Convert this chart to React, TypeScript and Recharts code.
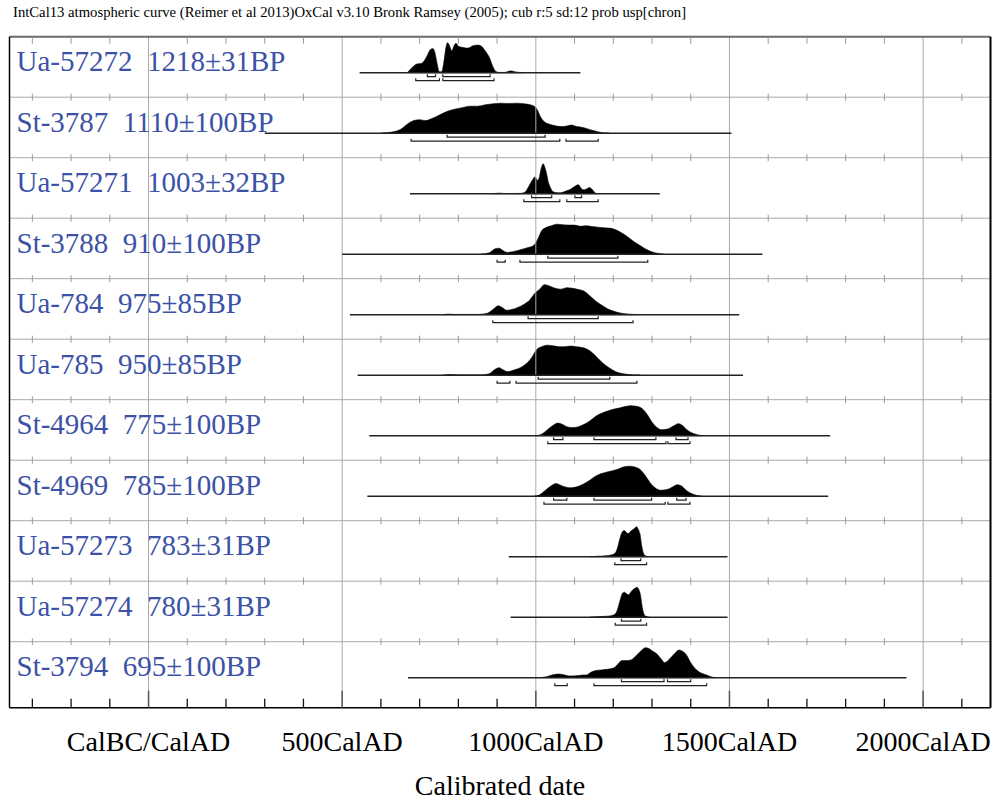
import React from 'react';
import { ComposedChart, Area, XAxis, YAxis, ReferenceLine, Scatter } from 'recharts';

const SERIF = '"Liberation Serif", "Times New Roman", serif';
const BLUE = '#3c52a6';

const title = 'IntCal13 atmospheric curve (Reimer et al 2013)OxCal v3.10 Bronk Ramsey (2005); cub r:5 sd:12 prob usp[chron]';

const sampleNames = ['Ua-57272', 'St-3787', 'Ua-57271', 'St-3788', 'Ua-784', 'Ua-785', 'St-4964', 'St-4969', 'Ua-57273', 'Ua-57274', 'St-3794'];
const bpDates = ['1218±31BP', '1110±100BP', '1003±32BP', '910±100BP', '975±85BP', '950±85BP', '775±100BP', '785±100BP', '783±31BP', '780±31BP', '695±100BP'];

// extent of the calibrated range line for each sample (cal AD)
const extents = [
  [545, 1115], [300, 1505], [675, 1320], [500, 1585], [520, 1525], [540, 1535],
  [570, 1760], [565, 1755], [930, 1495], [935, 1495], [670, 1957],
];

// probability curves, [year, relative height]
const ua57272 = [[668,0],[683,0.2],[693,0.29],[705,0.31],[718,0.53],[727,0.76],[734,0.81],[740,0.64],[745,0.31],[751,0.03],[757,0.03],[763,0.4],[768,0.85],[772,1],[777,0.9],[783,0.73],[789,0.9],[794,0.98],[800,0.88],[812,0.84],[825,0.82],[838,0.9],[850,0.92],[860,0.88],[868,0.75],[876,0.6],[882,0.45],[886,0.3],[891,0.15],[896,0.05],[905,0.01],[920,0.01],[930,0.05],[937,0.06],[945,0.03],[958,0.01],[965,0]];
const st3787 = [[600,0],[625,0.03],[650,0.12],[668,0.3],[685,0.42],[700,0.45],[715,0.42],[730,0.48],[750,0.6],[770,0.72],[790,0.8],[810,0.85],[830,0.9],[850,0.9],[870,0.95],[890,0.98],[910,1],[930,0.99],[950,1],[970,0.98],[990,0.93],[1003,0.8],[1012,0.55],[1022,0.38],[1035,0.3],[1050,0.25],[1065,0.22],[1080,0.24],[1092,0.27],[1105,0.22],[1118,0.2],[1130,0.16],[1145,0.1],[1160,0.05],[1175,0.01],[1190,0]];
const ua57271 = [[890,0],[900,0.015],[907,0.02],[915,0.01],[930,0.005],[960,0.01],[972,0.05],[982,0.25],[990,0.43],[998,0.56],[1004,0.45],[1008,0.5],[1013,0.8],[1019,1],[1024,0.85],[1028,0.65],[1032,0.4],[1037,0.22],[1043,0.08],[1050,0.04],[1060,0.03],[1070,0.05],[1080,0.1],[1090,0.15],[1100,0.24],[1110,0.3],[1116,0.2],[1122,0.13],[1130,0.15],[1138,0.21],[1145,0.15],[1153,0.03],[1160,0]];
const st3788 = [[860,0],[880,0.05],[895,0.18],[905,0.2],[915,0.12],[925,0.06],[940,0.08],[960,0.15],[980,0.22],[995,0.3],[1005,0.5],[1015,0.78],[1025,0.88],[1040,0.95],[1055,1],[1070,0.98],[1085,0.97],[1100,0.97],[1115,0.93],[1130,0.95],[1145,0.92],[1160,0.9],[1175,0.88],[1190,0.87],[1205,0.82],[1220,0.72],[1235,0.6],[1250,0.45],[1265,0.32],[1280,0.2],[1295,0.1],[1310,0.04],[1330,0]];
const ua784 = [[760,0],[775,0.02],[790,0.01],[850,0.01],[875,0.05],[890,0.18],[903,0.3],[912,0.25],[925,0.15],[940,0.18],[955,0.25],[970,0.35],[985,0.5],[998,0.72],[1010,0.85],[1022,1],[1035,0.96],[1050,0.88],[1065,0.85],[1080,0.9],[1095,0.88],[1110,0.84],[1125,0.78],[1140,0.62],[1155,0.45],[1170,0.32],[1185,0.2],[1200,0.12],[1220,0.05],[1240,0.02],[1260,0]];
const ua785 = [[760,0],[780,0.02],[800,0.01],[860,0.01],[880,0.05],[893,0.18],[905,0.25],[915,0.18],[928,0.12],[945,0.18],[960,0.25],[975,0.38],[990,0.6],[1002,0.85],[1015,0.95],[1030,1],[1045,0.98],[1060,0.95],[1075,0.95],[1090,0.97],[1105,0.95],[1120,0.92],[1135,0.85],[1150,0.7],[1165,0.5],[1180,0.33],[1195,0.2],[1210,0.1],[1230,0.04],[1250,0.01],[1270,0]];
const st4964 = [[1000,0],[1015,0.05],[1030,0.2],[1045,0.35],[1057,0.42],[1068,0.38],[1080,0.3],[1095,0.27],[1110,0.3],[1125,0.38],[1140,0.5],[1155,0.65],[1170,0.75],[1185,0.82],[1200,0.88],[1215,0.92],[1230,0.97],[1245,1],[1260,0.98],[1275,0.9],[1288,0.7],[1300,0.45],[1312,0.28],[1325,0.2],[1340,0.22],[1355,0.32],[1368,0.4],[1378,0.35],[1390,0.2],[1402,0.1],[1415,0.04],[1430,0]];
const st4969 = [[995,0],[1010,0.05],[1025,0.2],[1040,0.35],[1052,0.42],[1065,0.36],[1078,0.3],[1092,0.28],[1108,0.32],[1122,0.4],[1138,0.52],[1152,0.65],[1168,0.75],[1182,0.8],[1198,0.85],[1212,0.9],[1228,0.98],[1242,1],[1256,0.97],[1270,0.88],[1283,0.68],[1295,0.45],[1308,0.28],[1322,0.2],[1338,0.22],[1352,0.3],[1365,0.38],[1375,0.35],[1388,0.2],[1400,0.1],[1412,0.04],[1428,0]];
const ua57273 = [[1140,0],[1160,0.015],[1180,0.03],[1195,0.06],[1205,0.12],[1211,0.3],[1217,0.6],[1223,0.82],[1228,0.87],[1234,0.8],[1239,0.77],[1245,0.85],[1250,0.9],[1256,0.96],[1260,1],[1265,0.9],[1269,0.75],[1273,0.4],[1277,0.15],[1282,0.04],[1290,0]];
const ua57274 = [[1140,0],[1160,0.015],[1180,0.03],[1195,0.05],[1206,0.12],[1212,0.3],[1218,0.58],[1224,0.8],[1229,0.83],[1235,0.77],[1240,0.75],[1246,0.85],[1251,0.92],[1257,0.97],[1261,1],[1266,0.92],[1270,0.75],[1274,0.4],[1278,0.15],[1283,0.04],[1292,0]];
const st3794 = [[1010,0],[1030,0.04],[1045,0.1],[1058,0.12],[1072,0.1],[1085,0.06],[1097,0.06],[1110,0.07],[1122,0.09],[1131,0.09],[1142,0.18],[1155,0.24],[1170,0.26],[1185,0.28],[1200,0.32],[1212,0.45],[1222,0.57],[1235,0.57],[1247,0.6],[1260,0.75],[1272,0.9],[1283,1],[1292,0.97],[1302,0.88],[1312,0.8],[1322,0.65],[1333,0.5],[1345,0.62],[1358,0.8],[1370,0.92],[1376,0.9],[1389,0.76],[1400,0.5],[1415,0.26],[1428,0.15],[1441,0.09],[1455,0.02],[1465,0]];

const curves = [ua57272, st3787, ua57271, st3788, ua784, ua785, st4964, st4969, ua57273, ua57274, st3794];

// 68.2% and 95.4% ranges
const range68 = [
  [[720, 741], [760, 882]],
  [[771, 1024]],
  [[989, 1041], [1101, 1118]],
  [[1031, 1212]],
  [[980, 1161]],
  [[1006, 1191]],
  [[1046, 1070], [1150, 1310], [1362, 1393]],
  [[1046, 1080], [1150, 1299], [1364, 1388]],
  [[1220, 1271]],
  [[1221, 1271]],
  [[1221, 1331], [1340, 1400]],
];
const range95 = [
  [[690, 751], [760, 892]],
  [[678, 1062], [1078, 1161]],
  [[969, 1062], [1080, 1161]],
  [[900, 921], [959, 1289]],
  [[889, 1251]],
  [[900, 933], [949, 1261]],
  [[1031, 1336], [1341, 1398]],
  [[1021, 1334], [1341, 1398]],
  [[1204, 1286]],
  [[1205, 1286]],
  [[1049, 1081], [1150, 1441]],
];

const axisTicks = [-300, -200, -100, 0, 100, 200, 300, 400, 500, 600, 700, 800, 900, 1000, 1100, 1200, 1300, 1400, 1500, 1600, 1700, 1800, 1900, 2000, 2100];
const axisLabels: Record<number, string> = { 0: 'CalBC/CalAD', 500: '500CalAD', 1000: '1000CalAD', 1500: '1500CalAD', 2000: '2000CalAD' };
const gridYears = [0, 500, 1000, 1500, 2000];

// layout
const W = 995;
const H = 803;
const PLOT_L = 9.5;
const PLOT_R = 990.5;
const PLOT_T = 36.7;
const PLOT_B = 707.7;
const ROW = 60.5;
const BASE_OFF = 36;
const PEAK = 30;
const LABEL_OFF = 34.5;
const X_MIN = -359;
const X_MAX = 2174;
const Y_MAX = PLOT_B - PLOT_T;

const baseOf = (k: number) => k * ROW + BASE_OFF;

const separatorYs = [0, 1, 2, 3, 4, 5, 6, 7, 8, 9, 10].map((k) => k * ROW);
const sepTicks = separatorYs.flatMap((y, k) =>
  axisTicks.filter((t) => !axisLabels[t]).map((t) => ({ x: t, y, top: k === 0 }))
);

function SepTick(p: any) {
  const top = p.payload && p.payload.top;
  return (
    <line x1={p.cx} x2={p.cx} y1={top ? p.cy : p.cy - 3.5} y2={top ? p.cy + 7 : p.cy + 3.5} stroke="#9a9a9a" strokeWidth={1} />
  );
}

function XTick(p: any) {
  const v = p.payload.value;
  const label = axisLabels[v];
  return (
    <g>
      <line x1={p.x} x2={p.x} y1={p.y} y2={p.y - (label ? 17 : 9)} stroke={label ? '#555' : '#111'} strokeWidth={label ? 1.5 : 1.3} />
      {label && (
        <text x={p.x} y={p.y + 43} textAnchor="middle" fontSize={28} fontFamily={SERIF} fill="#000">
          {label}
        </text>
      )}
    </g>
  );
}

const bracket = (drop: number) => (p: any) => (
  <path
    d={`M${p.x1},${p.y1 - drop}L${p.x1},${p.y1}L${p.x2},${p.y2}L${p.x2},${p.y2 - drop}`}
    fill="none"
    stroke="#222"
    strokeWidth={1.2}
  />
);

export default function App() {
  return (
    <div style={{ position: 'absolute', left: 0, top: 0, width: W, height: H, background: '#fff' }}>
      <div style={{ position: 'absolute', left: 13, top: 5, fontFamily: SERIF, fontSize: 14.7, lineHeight: 1, whiteSpace: 'nowrap', color: '#000' }}>
        {title}
      </div>
      <ComposedChart
        width={W}
        height={H}
        margin={{ top: PLOT_T, left: PLOT_L, right: W - PLOT_R, bottom: 0.3 }}
        style={{ position: 'absolute', left: 0, top: 0 }}
      >
        <XAxis
          type="number"
          dataKey="x"
          domain={[X_MIN, X_MAX]}
          allowDataOverflow
          ticks={axisTicks}
          interval={0}
          tickSize={0}
          tickMargin={0}
          tickLine={false}
          tick={<XTick />}
          height={95}
          axisLine={{ stroke: '#000', strokeWidth: 1.6 }}
          label={{ value: 'Calibrated date', position: 'insideBottom', offset: 8, fontSize: 28, fill: '#000', fontFamily: SERIF }}
        />
        <YAxis type="number" domain={[0, Y_MAX]} reversed allowDataOverflow hide />
        {gridYears.map((g) => (
          <ReferenceLine key={'g' + g} x={g} stroke="#a9a9a9" strokeWidth={1} ifOverflow="visible" />
        ))}
        {separatorYs.slice(1).map((y) => (
          <ReferenceLine key={'s' + y} y={y} stroke="#a9a9a9" strokeWidth={1} ifOverflow="visible" />
        ))}
        <ReferenceLine y={0} stroke="#6a6a6a" strokeWidth={2} ifOverflow="visible" />
        <ReferenceLine x={X_MIN} stroke="#000" strokeWidth={1.5} ifOverflow="visible" />
        <ReferenceLine x={X_MAX} stroke="#000" strokeWidth={2} ifOverflow="visible" />
        <Scatter data={sepTicks} dataKey="y" shape={<SepTick />} isAnimationActive={false} />
        {extents.map(([a, b], k) => (
          <ReferenceLine
            key={'e' + k}
            segment={[{ x: a, y: baseOf(k) }, { x: b, y: baseOf(k) }]}
            stroke="#222"
            strokeWidth={1.5}
            ifOverflow="visible"
          />
        ))}
        {curves.map((c, k) => (
          <Area
            key={'a' + k}
            data={c.map(([x, h]) => ({ x, band: [baseOf(k), baseOf(k) - h * PEAK] }))}
            dataKey="band"
            type="monotone"
            stroke="#000"
            strokeWidth={0.6}
            fill="#000"
            fillOpacity={1}
            dot={false}
            activeDot={false}
            isAnimationActive={false}
          />
        ))}
        {range68.map((rs, k) =>
          rs.map(([a, b], i) => (
            <ReferenceLine
              key={'r68' + k + '-' + i}
              segment={[{ x: a, y: baseOf(k) + 4 }, { x: b, y: baseOf(k) + 4 }]}
              shape={bracket(2.5)}
              ifOverflow="visible"
            />
          ))
        )}
        {range95.map((rs, k) =>
          rs.map(([a, b], i) => (
            <ReferenceLine
              key={'r95' + k + '-' + i}
              segment={[{ x: a, y: baseOf(k) + 8 }, { x: b, y: baseOf(k) + 8 }]}
              shape={bracket(2.5)}
              ifOverflow="visible"
            />
          ))
        )}
      </ComposedChart>
      <svg width={W} height={H} style={{ position: 'absolute', left: 0, top: 0, pointerEvents: 'none' }}>
        {sampleNames.map((n, k) => (
          <text
            key={n}
            x={16.5}
            y={PLOT_T + k * ROW + LABEL_OFF}
            fontSize={29}
            fontFamily={SERIF}
            fill={BLUE}
            style={{ whiteSpace: 'pre' }}
          >
            {n + '  ' + bpDates[k]}
          </text>
        ))}
      </svg>
    </div>
  );
}
